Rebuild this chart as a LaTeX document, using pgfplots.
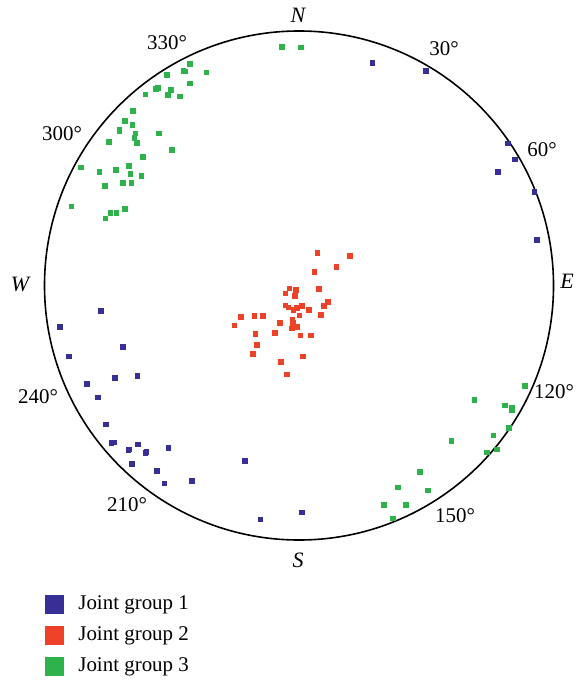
\documentclass[border=0pt]{standalone}
\usepackage{fontspec}
\setmainfont{Liberation Serif}
\usepackage{pgfplots}
\pgfplotsset{compat=1.18}
\definecolor{grpA}{RGB}{54,48,150}
\definecolor{grpB}{RGB}{238,66,40}
\definecolor{grpC}{RGB}{46,178,76}

\begin{document}
\begin{tikzpicture}
\begin{axis}[
    scale only axis,
    width=286.5bp, height=340bp,
    xmin=0, xmax=573, ymin=0, ymax=680,
    y dir=reverse,
    hide axis, clip=false,
    font=\fontsize{10.5}{12}\selectfont,
    legend style={at={(axis cs:45,595)}, anchor=north west, draw=none, fill=none,
        inner sep=0pt, row sep=6.2bp, column sep=7.3bp,
        nodes={inner sep=0pt, anchor=west, text height=7bp, text depth=2bp}},
    legend cell align=left,
]
\path (axis cs:0,0) (axis cs:573,680);
\draw[black, line width=0.8pt] (axis cs:299,285.5) circle[radius=127.25bp];

% joint group 1
\addplot[only marks, mark=square*, mark size=1.1bp, color=grpA,
    legend image code/.code={\fill[grpA] (0bp,-4.4bp) rectangle (8.8bp,4.4bp);}]
coordinates {
(372.3,62.7)(426,71)(508,143.3)(515,159.3)(497.7,171.7)(534.3,191.7)(536.7,240)
(101,311)(59.7,326.7)(122.7,347)(69,356.3)(115,377.7)(137.3,375.7)(87,383.7)
(98,397.3)(105.7,424.3)(111.5,442.7)(114.5,442.3)(128.3,449.7)(129.6,449.3)
(138,444.3)(145.2,452.7)(146.5,452)(168.3,448)(132,463.7)(156.7,471)
(164.3,483.3)(191.7,481)(244.7,460.7)(260.3,519.3)(302,512.3)
};
\addlegendentry{Joint group 1}

% joint group 2
\addplot[only marks, mark=square*, mark size=1.1bp, color=grpB,
    legend image code/.code={\fill[grpB] (0bp,-4.4bp) rectangle (8.8bp,4.4bp);}]
coordinates {
(317.3,252.7)(350,255.7)(336.3,266.7)(314.3,272)(289.3,288.3)(295.7,290)
(285.3,293.3)(319,288.7)(294.7,296)(327.7,301.7)(324,305.7)(285.3,305.3)
(288.3,307.3)(293.3,310)(297,308)(301.7,305.7)(308.7,310)(240.7,316.7)
(254.3,315.7)(263,315.7)(234.3,325.3)(299.3,315.3)(320.7,314.7)(292.3,319.3)
(280,322.7)(293,323)(297.3,326.7)(291.7,328.3)(274.7,333)(255.3,333.7)
(300.3,335.3)(311,335.3)(257,344.7)(253,354)(302.7,356.3)(280.7,362)(287,374.3)
};
\addlegendentry{Joint group 2}

% joint group 3
\addplot[only marks, mark=square*, mark size=1.1bp, color=grpC,
    legend image code/.code={\fill[grpC] (0bp,-4.4bp) rectangle (8.8bp,4.4bp);}]
coordinates {
(281.7,46.7)(300.7,47.3)(190,63.7)(183.5,70.7)(185,71.3)(206.3,72.3)(167,74.7)
(190,83.3)(156,89)(158,88)(170.7,89.7)(145.3,94.3)(167.7,95)(180,96.3)
(132.7,110.7)(125,120.7)(132.3,125)(119.3,129.5)(119.3,131)(135.3,133.3)
(159,133.3)(134.3,138)(108.7,141.7)(136.7,142.7)(171.7,149.7)(143,156.7)
(81,167.3)(128.7,166)(99.3,171.7)(115.7,170)(130.3,174)(141.3,176)(105,186)
(122.7,182.7)(131.3,182.7)(71.3,206.3)(125,209)(110.3,212.7)(116.3,212.7)
(105.3,218.3)
(525,386)(474.3,399.7)(504.7,405.3)(512,407.3)(512,409.7)(508.7,428)
(493.3,435.3)(451.3,441)(486.7,452.3)(496.7,449.3)(419.7,471.7)(398,487.3)
(428,490.3)(384,504.7)(405.7,504.7)(392.7,518.3)
};
\addlegendentry{Joint group 3}

% direction labels
\node[font=\fontsize{11}{12}\selectfont\itshape] at (axis cs:298,15) {N};
\node[font=\fontsize{11}{12}\selectfont\itshape] at (axis cs:567,281) {E};
\node[font=\fontsize{11}{12}\selectfont\itshape] at (axis cs:298,560) {S};
\node[font=\fontsize{11}{12}\selectfont\itshape] at (axis cs:20,284) {W};
\node at (axis cs:444,49) {30°};
\node at (axis cs:542,150) {60°};
\node at (axis cs:554,392) {120°};
\node at (axis cs:455,516) {150°};
\node at (axis cs:127,505) {210°};
\node at (axis cs:38,397) {240°};
\node at (axis cs:62,134) {300°};
\node at (axis cs:167,43) {330°};
\end{axis}
\end{tikzpicture}
\end{document}
